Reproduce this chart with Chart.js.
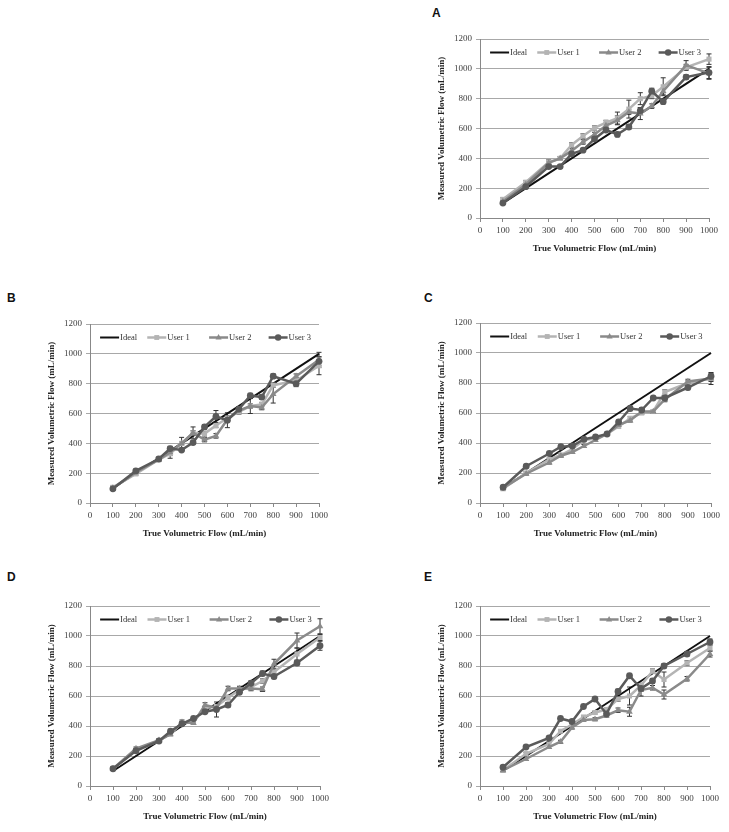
<!DOCTYPE html>
<html>
<head>
    <title>Volumetric flow accuracy</title>
    <script src="https://cdn.jsdelivr.net/npm/chart.js@4.4.2/dist/chart.umd.min.js"></script>
    <style>
        body {
            margin: 0;
            width: 729px;
            height: 832px;
            background: #fff;
            position: relative;
            overflow: hidden;
        }

        .panel {
            position: absolute;
        }

        .letter {
            position: absolute;
            font-family: "Liberation Sans", Arial, sans-serif;
            font-weight: bold;
            font-size: 12px;
            color: #111;
        }
    </style>
</head>

<body>
    <div class="letter" style="left:432px;top:6px">A</div>
    <div class="letter" style="left:7px;top:291px">B</div>
    <div class="letter" style="left:424px;top:291px">C</div>
    <div class="letter" style="left:7px;top:570px">D</div>
    <div class="letter" style="left:424px;top:570px">E</div>

    <canvas id="chartA" class="panel"></canvas>
    <canvas id="chartB" class="panel"></canvas>
    <canvas id="chartC" class="panel"></canvas>
    <canvas id="chartD" class="panel"></canvas>
    <canvas id="chartE" class="panel"></canvas>

    <script>
        // true flow set points (mL/min)
        const flowX = [100, 200, 300, 350, 400, 450, 500, 550, 600, 650, 700, 750, 800, 900, 1000];
        const idealX = [100, 1000];
        const idealY = [100, 1000];
        const seriesNames = ['Ideal', 'User 1', 'User 2', 'User 3'];
        const xTicks = [0, 100, 200, 300, 400, 500, 600, 700, 800, 900, 1000];
        const yTicks = [0, 200, 400, 600, 800, 1000, 1200];

        // panel A
        const aUser1 = [125, 240, 375, 400, 490, 550, 605, 640, 670, 730, 800, 820, 880, 1010, 1065];
        const aUser2 = [110, 225, 370, 400, 450, 510, 560, 620, 655, 710, 700, 750, 850, 1025, 970];
        const aUser3 = [100, 210, 345, 345, 430, 455, 530, 590, 560, 610, 720, 850, 780, 945, 975];
        const aErr1 = [10, 10, 15, 10, 15, 15, 15, 15, 40, 60, 40, 20, 60, 20, 35];
        const aErr2 = [10, 10, 10, 10, 15, 15, 15, 15, 30, 15, 40, 15, 20, 30, 40];
        const aErr3 = [10, 10, 10, 10, 10, 10, 10, 10, 15, 15, 20, 20, 15, 15, 40];

        // panel B
        const bUser1 = [105, 195, 290, 330, 400, 470, 465, 520, 570, 610, 650, 660, 790, 820, 920];
        const bUser2 = [100, 205, 290, 340, 400, 470, 425, 450, 560, 620, 650, 640, 730, 850, 960];
        const bUser3 = [95, 215, 295, 365, 355, 405, 510, 580, 555, 630, 720, 710, 850, 800, 950];
        const bErr1 = [10, 10, 10, 10, 10, 15, 15, 15, 15, 15, 15, 15, 15, 15, 60];
        const bErr2 = [10, 10, 10, 40, 40, 40, 15, 15, 15, 15, 50, 15, 60, 15, 50];
        const bErr3 = [10, 10, 10, 10, 10, 10, 15, 40, 50, 15, 15, 15, 15, 20, 30];

        // panel C
        const cUser1 = [95, 200, 290, 320, 360, 420, 430, 460, 510, 565, 600, 610, 740, 800, 830];
        const cUser2 = [100, 195, 270, 315, 340, 380, 420, 460, 520, 550, 610, 610, 690, 810, 830];
        const cUser3 = [105, 245, 330, 375, 380, 425, 440, 460, 540, 630, 620, 700, 700, 770, 845];
        const cErr1 = [10, 10, 10, 10, 10, 10, 10, 10, 10, 10, 10, 10, 15, 15, 40];
        const cErr2 = [10, 10, 10, 10, 10, 10, 10, 10, 10, 10, 15, 10, 15, 15, 20];
        const cErr3 = [10, 10, 10, 10, 10, 10, 10, 10, 10, 15, 15, 10, 15, 15, 20];

        // panel D
        const dUser1 = [115, 240, 300, 350, 420, 430, 520, 530, 590, 640, 660, 700, 760, 880, 990];
        const dUser2 = [115, 250, 305, 345, 425, 420, 540, 520, 650, 650, 650, 645, 815, 970, 1065];
        const dUser3 = [115, 235, 300, 365, 415, 450, 495, 510, 540, 625, 685, 750, 730, 820, 935];
        const dErr1 = [10, 10, 10, 10, 10, 10, 10, 10, 15, 15, 15, 15, 15, 40, 20];
        const dErr2 = [10, 10, 10, 10, 15, 10, 15, 10, 15, 15, 15, 15, 30, 50, 50];
        const dErr3 = [10, 10, 10, 10, 10, 10, 10, 50, 15, 15, 15, 15, 15, 15, 30];

        // panel E
        const eUser1 = [105, 215, 280, 365, 410, 460, 490, 510, 580, 600, 670, 765, 710, 820, 920];
        const eUser2 = [105, 180, 260, 295, 390, 440, 445, 470, 505, 495, 640, 655, 610, 715, 880];
        const eUser3 = [125, 260, 320, 450, 430, 530, 580, 480, 630, 735, 650, 700, 800, 880, 960];
        const eErr1 = [10, 10, 10, 10, 10, 10, 10, 10, 15, 60, 15, 15, 50, 15, 20];
        const eErr2 = [10, 10, 10, 10, 10, 10, 10, 10, 15, 30, 40, 15, 30, 15, 20];
        const eErr3 = [10, 10, 10, 10, 10, 10, 10, 10, 15, 15, 15, 15, 15, 15, 20];
    </script>
    <script>
        const serif = "'Liberation Serif', 'Times New Roman', serif";
        const colors = ['#111111', '#b4b4b4', '#8a8a8a', '#5a5a5a'];
        const markers = [null, 'rect', 'triangle', 'circle'];

        function drawMarker(ctx, style, x, y, r, color) {
            ctx.save();
            ctx.fillStyle = color;
            ctx.beginPath();
            if (style === 'rect') {
                const s = r * 0.72;
                ctx.rect(x - s, y - s, 2 * s, 2 * s);
            } else if (style === 'triangle') {
                ctx.moveTo(x, y - r);
                ctx.lineTo(x + r * 0.9, y + r * 0.6);
                ctx.lineTo(x - r * 0.9, y + r * 0.6);
                ctx.closePath();
            } else if (style === 'circle') {
                ctx.arc(x, y, r * 0.95, 0, Math.PI * 2);
            }
            ctx.fill();
            ctx.restore();
        }

        // excel style legend inside the plot area
        const insideLegend = {
            id: 'insideLegend',
            afterDraw(chart) {
                const ctx = chart.ctx;
                const area = chart.chartArea;
                const w = area.right - area.left;
                const y = area.top + 13.5;
                const offsets = [0.044, 0.25, 0.52, 0.78];
                ctx.save();
                ctx.font = "8.5px " + serif;
                ctx.textBaseline = 'middle';
                chart.data.datasets.forEach((ds, i) => {
                    const x = area.left + w * offsets[i];
                    ctx.strokeStyle = ds.borderColor;
                    ctx.lineWidth = i === 0 ? 2 : 2.5;
                    ctx.beginPath();
                    ctx.moveTo(x, y);
                    ctx.lineTo(x + 19, y);
                    ctx.stroke();
                    if (markers[i]) drawMarker(ctx, markers[i], x + 9.5, y, 3.4, ds.borderColor);
                    ctx.fillStyle = '#333';
                    ctx.fillText(ds.label, x + 20, y + 0.5);
                });
                ctx.restore();
            }
        };

        // vertical error bars from each dataset's errors array
        const errorBars = {
            id: 'errorBars',
            beforeDatasetsDraw(chart) {
                const ctx = chart.ctx;
                const xs = chart.scales.x;
                const ys = chart.scales.y;
                ctx.save();
                ctx.strokeStyle = '#333';
                ctx.lineWidth = 1;
                chart.data.datasets.forEach(ds => {
                    if (!ds.errors) return;
                    ds.data.forEach((p, i) => {
                        const e = ds.errors[i];
                        const px = xs.getPixelForValue(p.x);
                        const top = ys.getPixelForValue(p.y + e);
                        const bot = ys.getPixelForValue(p.y - e);
                        ctx.beginPath();
                        ctx.moveTo(px, top);
                        ctx.lineTo(px, bot);
                        ctx.moveTo(px - 2.5, top);
                        ctx.lineTo(px + 2.5, top);
                        ctx.moveTo(px - 2.5, bot);
                        ctx.lineTo(px + 2.5, bot);
                        ctx.stroke();
                    });
                });
                ctx.restore();
            }
        };

        function makePanel(id, box, users, errs) {
            const [plotLeft, plotTop, plotRight, plotBottom] = box;
            const canvas = document.getElementById(id);
            const padLeft = 60, padTop = 30, padRight = 20, xAxisH = 40;
            const cw = plotRight - plotLeft + padLeft + padRight;
            const ch = plotBottom - plotTop + padTop + xAxisH;
            canvas.width = cw;
            canvas.height = ch;
            canvas.style.width = cw + 'px';
            canvas.style.height = ch + 'px';
            canvas.style.left = (plotLeft - padLeft) + 'px';
            canvas.style.top = (plotTop - padTop) + 'px';

            const datasets = [{
                label: seriesNames[0],
                data: idealX.map((x, i) => ({ x: x, y: idealY[i] })),
                borderColor: colors[0],
                backgroundColor: colors[0],
                borderWidth: 2,
                pointRadius: 0,
                order: 4
            }];
            users.forEach((vals, k) => {
                datasets.push({
                    label: seriesNames[k + 1],
                    data: flowX.map((x, i) => ({ x: x, y: vals[i] })),
                    errors: errs[k],
                    borderColor: colors[k + 1],
                    backgroundColor: colors[k + 1],
                    borderWidth: 2.5,
                    pointStyle: markers[k + 1],
                    pointRadius: k === 0 ? 3.6 : (k === 1 ? 3.8 : 3.4),
                    pointBorderWidth: 0,
                    order: 3 - k
                });
            });

            new Chart(canvas.getContext('2d'), {
                type: 'line',
                data: { datasets: datasets },
                plugins: [errorBars, insideLegend],
                options: {
                    responsive: false,
                    animation: false,
                    devicePixelRatio: 1,
                    layout: { padding: { left: 0, top: padTop, right: padRight, bottom: 0 } },
                    elements: { line: { tension: 0 } },
                    datasets: { line: { clip: false } },
                    plugins: {
                        legend: { display: false },
                        tooltip: { enabled: false }
                    },
                    scales: {
                        x: {
                            type: 'linear',
                            min: 0,
                            max: 1000,
                            afterBuildTicks: s => { s.ticks = xTicks.map(v => ({ value: v })); },
                            afterFit: s => { s.height = xAxisH; },
                            grid: { drawOnChartArea: false, drawTicks: true, tickLength: 4, color: '#888' },
                            border: { display: true, color: '#888', width: 1 },
                            ticks: {
                                padding: 3, color: '#404040', font: { family: serif, size: 9 },
                                maxRotation: 0, autoSkip: false, callback: v => String(v)
                            },
                            title: {
                                display: true,
                                text: 'True Volumetric Flow (mL/min)',
                                color: '#222',
                                font: { family: serif, size: 9, weight: 'bold' },
                                padding: { top: 0, bottom: 4 }
                            }
                        },
                        y: {
                            type: 'linear',
                            min: 0,
                            max: 1200,
                            afterBuildTicks: s => { s.ticks = yTicks.map(v => ({ value: v })); },
                            afterFit: s => { s.width = padLeft; },
                            grid: { color: '#a8a8a8', lineWidth: 1, drawTicks: true, tickLength: 4 },
                            border: { display: true, color: '#888', width: 1 },
                            ticks: {
                                padding: 4, color: '#404040', font: { family: serif, size: 9 },
                                autoSkip: false, callback: v => String(v)
                            },
                            title: {
                                display: true,
                                text: 'Measured Volumetric Flow (mL/min)',
                                color: '#222',
                                font: { family: serif, size: 9, weight: 'bold' },
                                padding: { top: 16.5, bottom: 0 }
                            }
                        }
                    }
                }
            });
        }

        makePanel('chartA', [480, 39, 709, 218], [aUser1, aUser2, aUser3], [aErr1, aErr2, aErr3]);
        makePanel('chartB', [90, 324, 319, 503], [bUser1, bUser2, bUser3], [bErr1, bErr2, bErr3]);
        makePanel('chartC', [480, 323, 711, 503], [cUser1, cUser2, cUser3], [cErr1, cErr2, cErr3]);
        makePanel('chartD', [90, 606, 320, 786], [dUser1, dUser2, dUser3], [dErr1, dErr2, dErr3]);
        makePanel('chartE', [480, 606, 710, 786], [eUser1, eUser2, eUser3], [eErr1, eErr2, eErr3]);
    </script>
</body>

</html>
